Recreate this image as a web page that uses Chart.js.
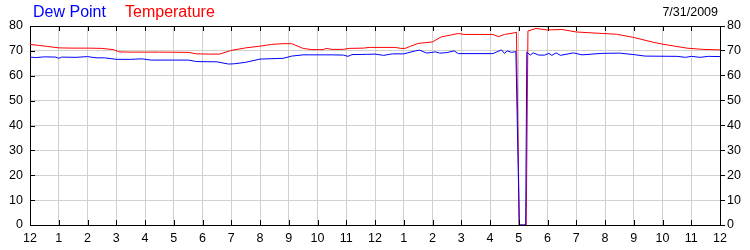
<!DOCTYPE html>
<html>
<head>
<meta charset="utf-8">
<script src="https://cdn.jsdelivr.net/npm/chart.js@4/dist/chart.umd.min.js"></script>
<style>
  body { margin: 0; background: #fff; }
  #wrap { position: relative; width: 750px; height: 250px; font-family: Arial, "Liberation Sans", sans-serif; }
  .lbl { position: absolute; white-space: nowrap; }
</style>
</head>
<body>
<div id="wrap">
  <canvas id="myChart" width="750" height="250"></canvas>
  <div class="lbl" style="left:33px;top:4px;font-size:16px;line-height:16px;color:#0000ff">Dew Point</div>
  <div class="lbl" style="left:125px;top:4px;font-size:16px;line-height:16px;color:#ff0000">Temperature</div>
  <div class="lbl" style="right:32px;top:6px;font-size:12.5px;line-height:12.5px;color:#000">7/31/2009</div>
</div>
<script>
const hourLabels = ['12','1','2','3','4','5','6','7','8','9','10','11','12','1','2','3','4','5','6','7','8','9','10','11','12'];

// hours since midnight
const dewTimes = [0,0.2,0.5,0.9,1.0,1.1,1.6,2.0,2.3,2.6,3.0,3.5,3.9,4.2,5.0,5.5,5.8,6.5,6.9,7.1,7.5,8.0,8.8,9.1,9.5,10.5,10.9,11.06,11.2,11.7,12.0,12.3,12.6,13.0,13.4,13.55,13.8,14.1,14.25,14.5,14.75,14.9,16.1,16.4,16.5,16.6,16.75,16.9,17.02,17.24,17.28,17.4,17.5,17.7,17.9,18.05,18.15,18.3,18.45,18.9,19.2,19.9,20.5,21.0,21.4,22.5,22.8,23.0,23.3,23.6,24];
const dewPoint = [67.5,67.3,67.6,67.5,67.0,67.5,67.4,67.7,67.2,67.2,66.6,66.6,66.8,66.3,66.3,66.3,65.7,65.6,64.7,64.8,65.4,66.7,67.0,67.9,68.4,68.4,68.3,67.8,68.5,68.6,68.7,68.2,68.8,68.8,70.0,70.3,69.1,69.6,69.1,69.3,70.0,68.9,68.9,70.4,69.0,70.0,69.4,69.7,0,0,69.5,68.3,69.2,68.3,68.3,69.0,68.2,69.2,68.2,69.2,68.4,69.0,69.1,68.5,67.9,67.8,67.4,67.8,67.4,67.8,67.7];

const tempTimes = [0,0.3,0.6,1.0,1.5,2.0,2.5,2.9,3.1,3.5,4.5,5.5,5.8,6.2,6.6,7.0,7.5,8.0,8.4,8.8,9.1,9.5,9.8,10.2,10.3,10.5,10.9,11.1,11.6,11.8,12.7,12.9,13.05,13.2,13.5,14.0,14.3,14.9,15.1,16.1,16.3,16.5,16.87,16.92,17.02,17.26,17.32,17.6,18.0,18.5,19.0,19.9,20.4,21.0,21.7,22.0,22.85,23.4,24];
const temperature = [72.6,72.2,71.8,71.2,71.1,71.1,71.0,70.5,69.6,69.5,69.5,69.4,68.8,68.7,68.7,70.2,71.2,71.9,72.6,72.9,72.9,71.0,70.5,70.5,71.0,70.6,70.6,71.0,71.1,71.4,71.4,71.0,71.0,71.7,73.0,73.6,75.6,77.0,76.6,76.6,75.7,76.6,77.3,77.5,0,0,78.0,79.0,78.4,78.6,77.6,77.0,76.7,75.4,73.4,72.7,71.1,70.6,70.4];

const yMin = 0, yMax = 80, yStep = 10;

// top border and inward tick marks
const framePlugin = {
    id: 'frame',
    afterDraw(chart) {
        const { ctx, chartArea: a, scales } = chart;
        ctx.save();
        ctx.strokeStyle = '#000';
        ctx.lineWidth = 1;
        ctx.beginPath();
        ctx.moveTo(a.left, a.top + 0.5);
        ctx.lineTo(a.right, a.top + 0.5);
        scales.x.ticks.forEach(t => {
            const px = Math.round(scales.x.getPixelForValue(t.value)) + 0.5;
            ctx.moveTo(px, a.top);
            ctx.lineTo(px, a.top + 5);
            ctx.moveTo(px, a.bottom);
            ctx.lineTo(px, a.bottom - 5);
        });
        scales.y.ticks.forEach(t => {
            const py = Math.round(scales.y.getPixelForValue(t.value)) + 0.5;
            ctx.moveTo(a.left, py);
            ctx.lineTo(a.left + 5, py);
        });
        ctx.stroke();
        ctx.restore();
    }
};

const tickFont = { family: 'Arial, "Liberation Sans", sans-serif', size: 12.5 };

const ctx = document.getElementById('myChart').getContext('2d');
const sensorsChart = new Chart(ctx, {
    type: 'line',
    data: {
        datasets: [
            {
                label: 'Dew Point',
                data: dewTimes.map((t, i) => ({ x: t, y: dewPoint[i] })),
                borderColor: '#0000ff',
                backgroundColor: '#0000ff',
                borderWidth: 1,
                pointRadius: 0,
                tension: 0,
                yAxisID: 'y'
            },
            {
                label: 'Temperature',
                data: tempTimes.map((t, i) => ({ x: t, y: temperature[i] })),
                borderColor: '#ff0000',
                backgroundColor: '#ff0000',
                borderWidth: 1,
                pointRadius: 0,
                tension: 0,
                yAxisID: 'y'
            }
        ]
    },
    options: {
        responsive: false,
        animation: false,
        events: [],
        layout: { padding: { top: 26, bottom: 0, left: 0, right: 0 } },
        plugins: {
            legend: { display: false },
            tooltip: { enabled: false }
        },
        scales: {
            x: {
                type: 'linear',
                min: 0,
                max: 24,
                afterFit: s => { s.height = 25; },
                ticks: {
                    stepSize: 1,
                    autoSkip: false,
                    maxRotation: 0,
                    padding: 6,
                    color: '#000',
                    font: tickFont,
                    callback: v => hourLabels[v]
                },
                grid: { color: '#d0d0d0', drawTicks: false },
                border: { color: '#000', width: 1 }
            },
            y: {
                position: 'left',
                min: yMin,
                max: yMax,
                afterFit: s => { s.width = 30; },
                ticks: { stepSize: yStep, padding: 7, color: '#000', font: tickFont },
                grid: { color: '#d0d0d0', drawTicks: false },
                border: { color: '#000', width: 1 }
            },
            y1: {
                position: 'right',
                min: yMin,
                max: yMax,
                afterFit: s => { s.width = 30; },
                ticks: { stepSize: yStep, padding: 2, color: '#000', font: tickFont },
                grid: { drawOnChartArea: false, drawTicks: true, tickLength: 5, tickColor: '#000' },
                border: { color: '#000', width: 1 }
            }
        }
    },
    plugins: [framePlugin]
});
</script>
</body>
</html>
